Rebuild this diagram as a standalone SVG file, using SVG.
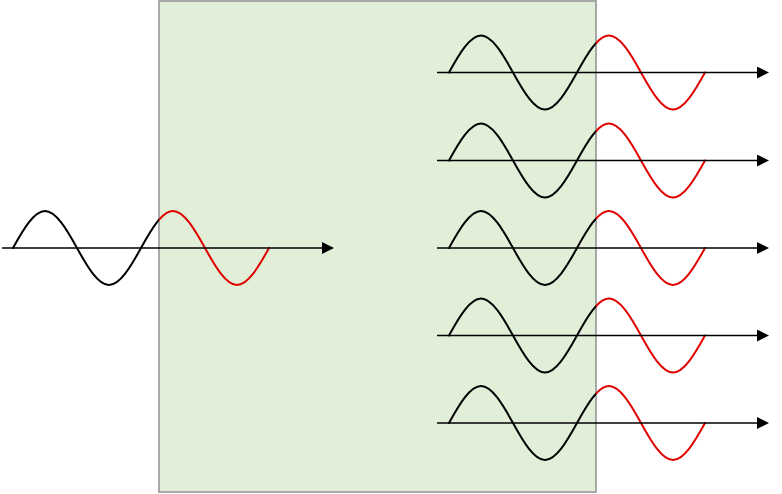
<svg xmlns="http://www.w3.org/2000/svg" xmlns:xlink="http://www.w3.org/1999/xlink" width="782" height="494" viewBox="0 0 782 494">
  <style>
    .box { fill: #e1eed8; stroke: #a8a8a8; stroke-width: 2; }
    .wave-k { fill: none; stroke: #000000; stroke-width: 2; stroke-linecap: round; }
    .wave-r { fill: none; stroke: #e00000; stroke-width: 2; stroke-linecap: round; }
    .axis { fill: none; stroke: #000000; stroke-width: 1.3; marker-end: url(#arrow); }
  </style>
  <defs>
    <marker id="arrow" viewBox="0 0 12 12" refX="0" refY="6" markerUnits="userSpaceOnUse" markerWidth="12" markerHeight="12" orient="auto">
      <path d="M0,0 L12,6 L0,12 Z" fill="#000000"/>
    </marker>
    <path id="wave" d="M0,0 C10.43,-18.95 21.15,-37 32,-37 C42.85,-37 53.57,-18.95 64,0 C74.43,18.95 85.15,37 96,37 C106.85,37 117.57,18.95 128,0 C138.43,-18.95 149.15,-37 160,-37 C170.85,-37 181.57,-18.95 192,0 C202.43,18.95 213.15,37 224,37 C234.85,37 245.57,18.95 256,0"/>
    <clipPath id="clipLK" clipPathUnits="userSpaceOnUse"><rect x="0" y="0" width="159" height="494"/></clipPath>
    <clipPath id="clipLR" clipPathUnits="userSpaceOnUse"><rect x="159" y="0" width="300" height="494"/></clipPath>
    <clipPath id="clipRK" clipPathUnits="userSpaceOnUse"><rect x="300" y="0" width="296" height="494"/></clipPath>
    <clipPath id="clipRR" clipPathUnits="userSpaceOnUse"><rect x="596" y="0" width="186" height="494"/></clipPath>
  </defs>

  <g id="box">
    <rect class="box" x="159" y="1" width="437" height="491"/>
  </g>

  <g id="input-wave">
    <g clip-path="url(#clipLK)"><use xlink:href="#wave" class="wave-k" transform="translate(13,248)"/></g>
    <g clip-path="url(#clipLR)"><use xlink:href="#wave" class="wave-r" transform="translate(13,248)"/></g>
  </g>

  <g id="output-waves">
    <g clip-path="url(#clipRK)">
      <use xlink:href="#wave" class="wave-k" transform="translate(449,72.5)"/>
      <use xlink:href="#wave" class="wave-k" transform="translate(449,160.5)"/>
      <use xlink:href="#wave" class="wave-k" transform="translate(449,248)"/>
      <use xlink:href="#wave" class="wave-k" transform="translate(449,335.5)"/>
      <use xlink:href="#wave" class="wave-k" transform="translate(449,423)"/>
    </g>
    <g clip-path="url(#clipRR)">
      <use xlink:href="#wave" class="wave-r" transform="translate(449,72.5)"/>
      <use xlink:href="#wave" class="wave-r" transform="translate(449,160.5)"/>
      <use xlink:href="#wave" class="wave-r" transform="translate(449,248)"/>
      <use xlink:href="#wave" class="wave-r" transform="translate(449,335.5)"/>
      <use xlink:href="#wave" class="wave-r" transform="translate(449,423)"/>
    </g>
  </g>

  <g id="connectors">
    <line class="axis" x1="2" y1="248" x2="322" y2="248"/>
    <line class="axis" x1="437" y1="72.5" x2="757" y2="72.5"/>
    <line class="axis" x1="437" y1="160.5" x2="757" y2="160.5"/>
    <line class="axis" x1="437" y1="248" x2="757" y2="248"/>
    <line class="axis" x1="437" y1="335.5" x2="757" y2="335.5"/>
    <line class="axis" x1="437" y1="423" x2="757" y2="423"/>
  </g>
</svg>
